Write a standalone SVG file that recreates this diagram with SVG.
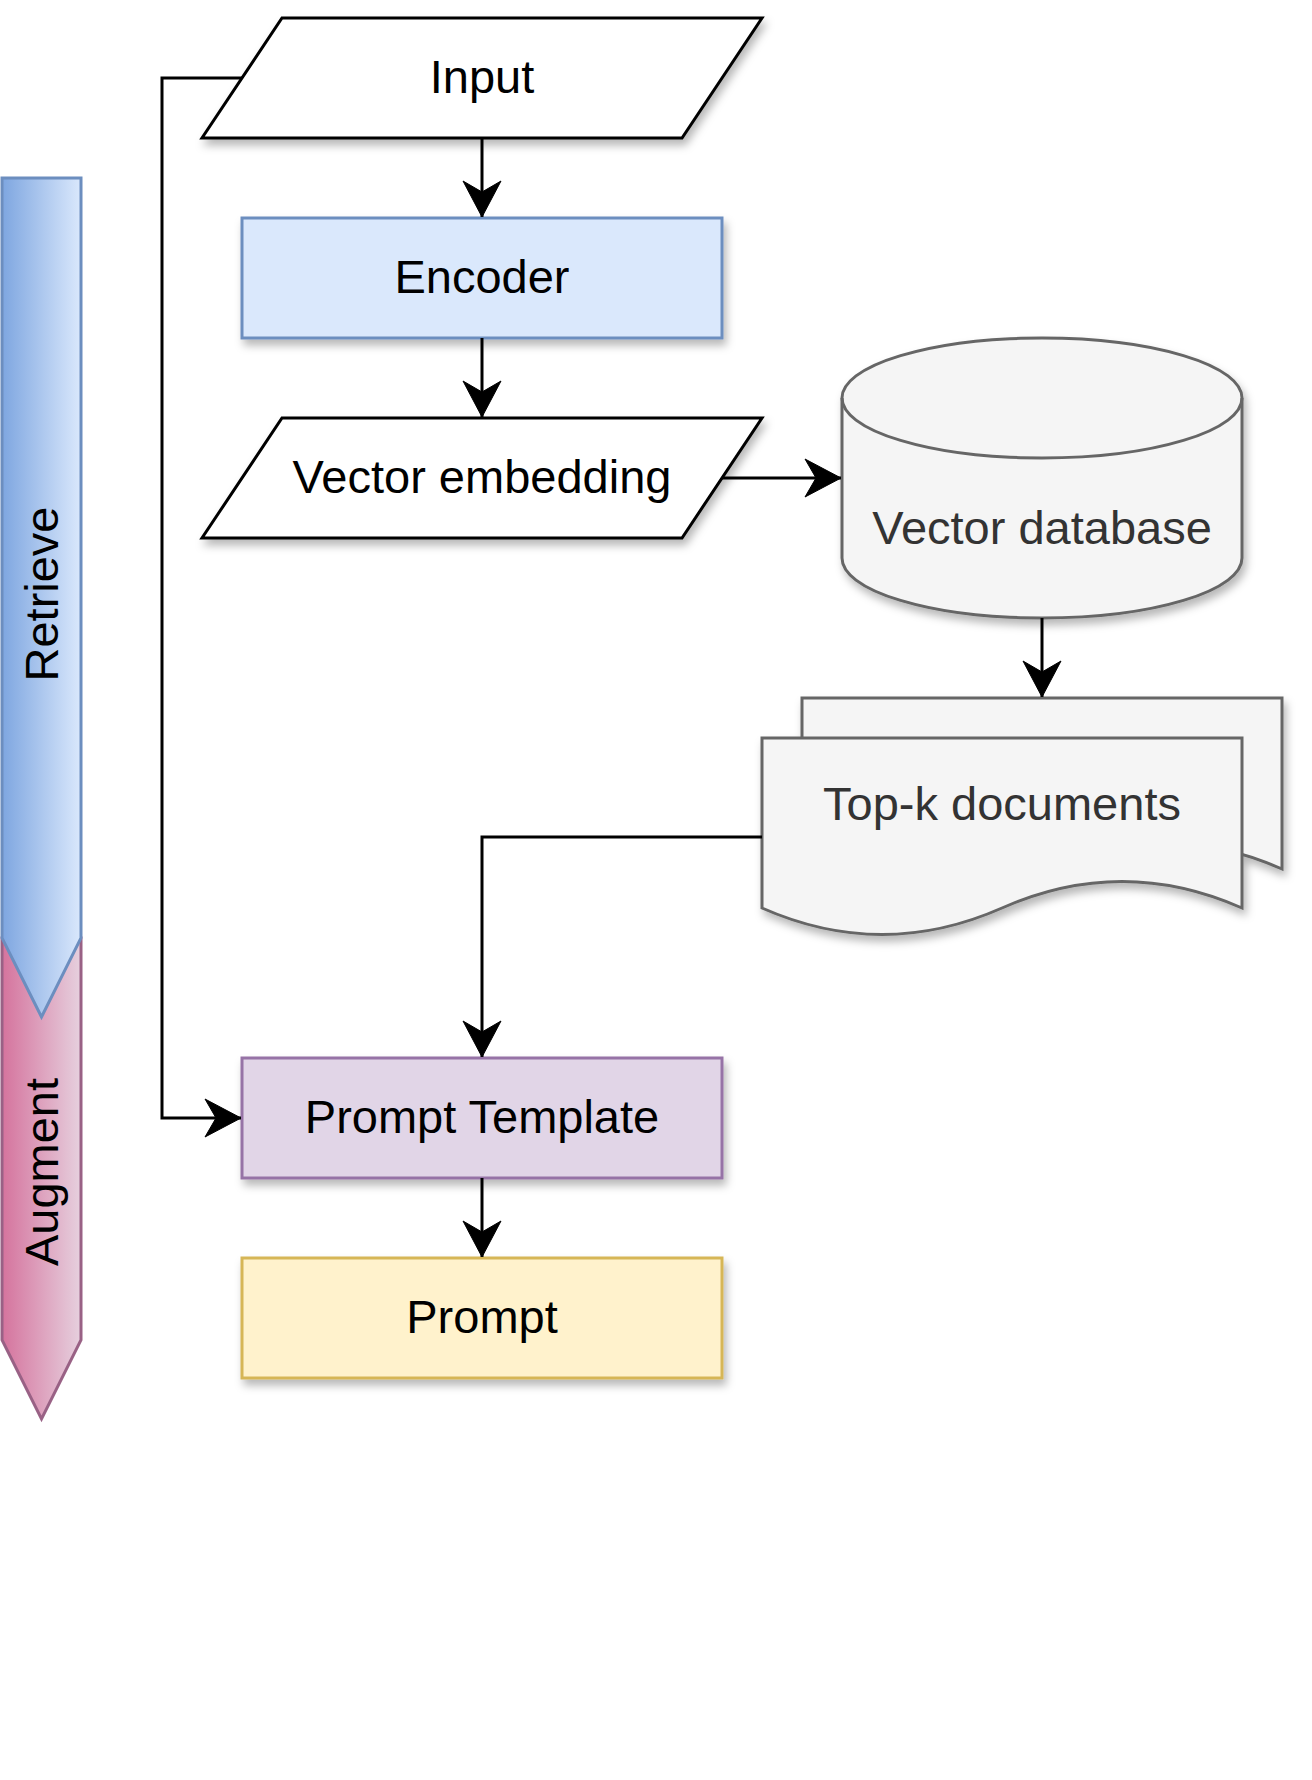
<svg xmlns="http://www.w3.org/2000/svg" width="1312" height="1780" viewBox="0 0 1312 1780">
  <style>
    .lbl { font-family: "Liberation Sans", Arial, Helvetica, sans-serif; font-size: 47px; text-anchor: middle; fill: #000000; }
    .grey { fill: #333333; }
    .edge { fill: none; stroke: #000000; stroke-width: 3; }
    .shp { stroke-width: 3; }
  </style>
  <defs>
    <filter id="shadow" x="-10%" y="-10%" width="130%" height="140%">
      <feDropShadow dx="3" dy="6" stdDeviation="4" flood-color="#000000" flood-opacity="0.28"/>
    </filter>
    <linearGradient id="gRetrieve" x1="0" y1="0" x2="1" y2="0">
      <stop offset="0" stop-color="#7ea6e0"/>
      <stop offset="1" stop-color="#dae8fc"/>
    </linearGradient>
    <linearGradient id="gAugment" x1="0" y1="0" x2="1" y2="0">
      <stop offset="0" stop-color="#d5739d"/>
      <stop offset="1" stop-color="#e6d0de"/>
    </linearGradient>
    <marker id="arrow" markerUnits="userSpaceOnUse" viewBox="-38 -21 40 42" refX="0" refY="0" markerWidth="40" markerHeight="42" orient="auto">
      <path d="M0,0 L-36,-19 L-25,0 L-36,19 Z" fill="#000000" stroke="#000000" stroke-width="1"/>
    </marker>
  </defs>

  <g id="augment">
    <path class="shp" d="M2,938 L81,938 L81,1340 L41.5,1419 L2,1340 Z" fill="url(#gAugment)" stroke="#996185"/>
    <text class="lbl" transform="translate(41.5,1172) rotate(-90)" x="0" y="16">Augment</text>
  </g>
  <g id="retrieve">
    <path class="shp" d="M2,178 L81,178 L81,938 L41.5,1017 L2,938 Z" fill="url(#gRetrieve)" stroke="#6c8ebf"/>
    <text class="lbl" transform="translate(41.5,594) rotate(-90)" x="0" y="16">Retrieve</text>
  </g>

  <g id="input">
    <polygon class="shp" points="282,18 762,18 682,138 202,138" fill="#ffffff" stroke="#000000" filter="url(#shadow)"/>
    <text class="lbl" x="482" y="93">Input</text>
  </g>
  <g id="encoder">
    <rect class="shp" x="242" y="218" width="480" height="120" fill="#dae8fc" stroke="#6c8ebf" filter="url(#shadow)"/>
    <text class="lbl" x="482" y="293">Encoder</text>
  </g>
  <g id="vector-embedding">
    <polygon class="shp" points="282,418 762,418 682,538 202,538" fill="#ffffff" stroke="#000000" filter="url(#shadow)"/>
    <text class="lbl" x="482" y="493">Vector embedding</text>
  </g>
  <g id="vector-database">
    <g filter="url(#shadow)">
      <path class="shp" d="M842,398 A200,60 0 0 1 1242,398 L1242,558 A200,60 0 0 1 842,558 Z" fill="#f5f5f5" stroke="#666666"/>
      <path class="shp" d="M842,398 A200,60 0 0 0 1242,398" fill="none" stroke="#666666"/>
    </g>
    <text class="lbl grey" x="1042" y="544">Vector database</text>
  </g>
  <g id="top-k-documents">
    <g filter="url(#shadow)">
      <path class="shp" d="M802,698 L1282,698 L1282,869 Q1162,816 1042,869 Q922,922 802,869 Z" fill="#f5f5f5" stroke="#666666"/>
      <path class="shp" d="M762,738 L1242,738 L1242,908 Q1122,855 1002,908 Q882,961 762,908 Z" fill="#f5f5f5" stroke="#666666"/>
    </g>
    <text class="lbl grey" x="1002" y="820">Top-k documents</text>
  </g>
  <g id="prompt-template">
    <rect class="shp" x="242" y="1058" width="480" height="120" fill="#e1d5e7" stroke="#9673a6" filter="url(#shadow)"/>
    <text class="lbl" x="482" y="1133">Prompt Template</text>
  </g>
  <g id="prompt">
    <rect class="shp" x="242" y="1258" width="480" height="120" fill="#fff2cc" stroke="#d6b656" filter="url(#shadow)"/>
    <text class="lbl" x="482" y="1333">Prompt</text>
  </g>

  <g id="connectors">
    <path class="edge" d="M482,138 L482,217" marker-end="url(#arrow)"/>
    <path class="edge" d="M482,338 L482,417" marker-end="url(#arrow)"/>
    <path class="edge" d="M722,478 L841,478" marker-end="url(#arrow)"/>
    <path class="edge" d="M1042,618 L1042,697" marker-end="url(#arrow)"/>
    <path class="edge" d="M762,837 L482,837 L482,1057" marker-end="url(#arrow)"/>
    <path class="edge" d="M242,78 L162,78 L162,1118 L241,1118" marker-end="url(#arrow)"/>
    <path class="edge" d="M482,1178 L482,1257" marker-end="url(#arrow)"/>
  </g>
</svg>
